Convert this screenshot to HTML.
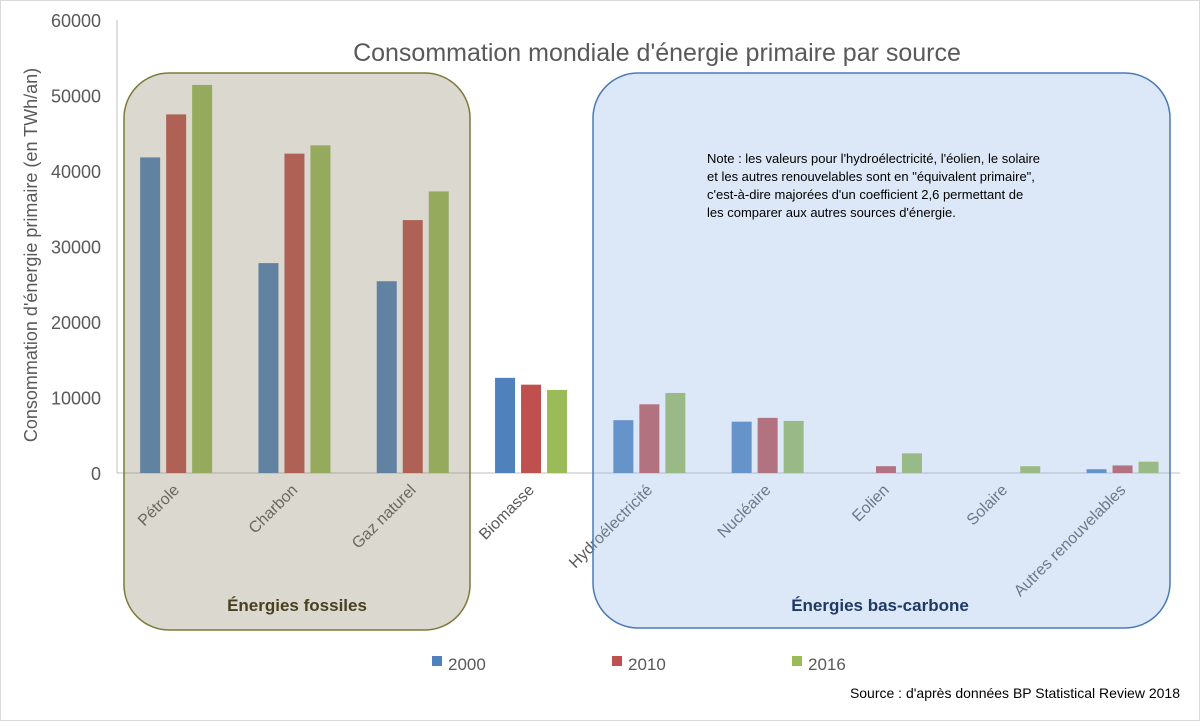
<!DOCTYPE html>
<html><head><meta charset="utf-8"><style>
body{margin:0;background:#fff;font-family:"Liberation Sans",sans-serif}
svg text{font-family:"Liberation Sans",sans-serif}
</style></head><body>
<svg id="c" width="1200" height="721" xmlns="http://www.w3.org/2000/svg">
<rect x="0.5" y="0.5" width="1199" height="720" fill="#fff" stroke="#d9d9d9"/>
<text x="657" y="61" font-size="25" fill="#595959" text-anchor="middle">Consommation mondiale d'énergie primaire par source</text>
<text transform="translate(37,255) rotate(-90)" font-size="18" fill="#595959" text-anchor="middle">Consommation d'énergie primaire (en TWh/an)</text>
<g id="ticks"></g><g id="bars"></g><g id="xl"></g>
<rect x="124" y="73" width="346" height="557" rx="45" fill="rgba(140,135,105,0.32)" stroke="#7f7a3a" stroke-width="1.5"/>
<rect x="593" y="73" width="577" height="555" rx="45" fill="rgba(150,185,230,0.33)" stroke="#4a7ab5" stroke-width="1.5"/>
<text x="297" y="611" font-size="17" font-weight="bold" fill="#4a4020" text-anchor="middle">Énergies fossiles</text>
<text x="880" y="611" font-size="17" font-weight="bold" fill="#1f3864" text-anchor="middle">Énergies bas-carbone</text>
<g font-size="13" fill="#000">
<text x="707" y="163">Note : les valeurs pour l'hydroélectricité, l'éolien, le solaire</text>
<text x="707" y="181">et les autres renouvelables sont en "équivalent primaire",</text>
<text x="707" y="199">c'est-à-dire majorées d'un coefficient 2,6 permettant de</text>
<text x="707" y="217">les comparer aux autres sources d'énergie.</text>
</g>
<g id="legend"></g>
<text x="1180" y="698" font-size="14" fill="#000" text-anchor="end">Source : d'après données BP Statistical Review 2018</text>
</svg>
<script>
const categories=["Pétrole","Charbon","Gaz naturel","Biomasse","Hydroélectricité","Nucléaire","Eolien","Solaire","Autres renouvelables"];
const years=["2000","2010","2016"];
const s2000=[41800,27800,25400,12600,7000,6800,0,0,500];
const s2010=[47500,42300,33500,11700,9100,7300,900,0,1000];
const s2016=[51400,43400,37300,11000,10600,6900,2600,900,1500];
const yTicks=[0,10000,20000,30000,40000,50000,60000];
const colors=["#4f81bd","#c0504d","#9bbb59"];
const NS="http://www.w3.org/2000/svg";
const y0=473,yTop=20,vmax=60000,x0=117,cw=118.3;
const y=v=>y0-(v/vmax)*(y0-yTop);
const xc=i=>x0+cw*(i+0.5);
function mk(t,a,p){const e=document.createElementNS(NS,t);for(const k in a)e.setAttribute(k,a[k]);p.appendChild(e);return e;}
const tk=document.getElementById('ticks');
let ax=mk('line',{x1:x0,x2:x0,y1:yTop,y2:y0,stroke:"#bfbfbf"},tk);


let bx=mk('line',{x1:x0,x2:1180,y1:y0,y2:y0,stroke:"#bfbfbf"},tk);


yTicks.forEach(v=>{const t=mk('text',{x:101,y:y(v)+7,"font-size":18,fill:"#595959","text-anchor":"end"},tk);t.textContent=v;

});
const bg=document.getElementById('bars');
[s2000,s2010,s2016].forEach((s,j)=>{s.forEach((v,i)=>{if(v<=0)return;const r=mk('rect',{x:xc(i)-36+j*26,y:y(v),width:20,height:y0-y(v),fill:colors[j]},bg);

});});
const xl=document.getElementById('xl');
categories.forEach((c,i)=>{const t=mk('text',{transform:`translate(${xc(i)+4},${y0+18}) rotate(-45)`,"font-size":16,fill:"#595959","text-anchor":"end"},xl);t.textContent=c;

});
const lg=document.getElementById('legend');
years.forEach((yr,j)=>{const lx=432+j*180;const r=mk('rect',{x:lx,y:656,width:10,height:10,fill:colors[j]},lg);


const t=mk('text',{x:lx+16,y:670,"font-size":17,fill:"#595959"},lg);t.textContent=yr;

});
</script>
</body></html>
